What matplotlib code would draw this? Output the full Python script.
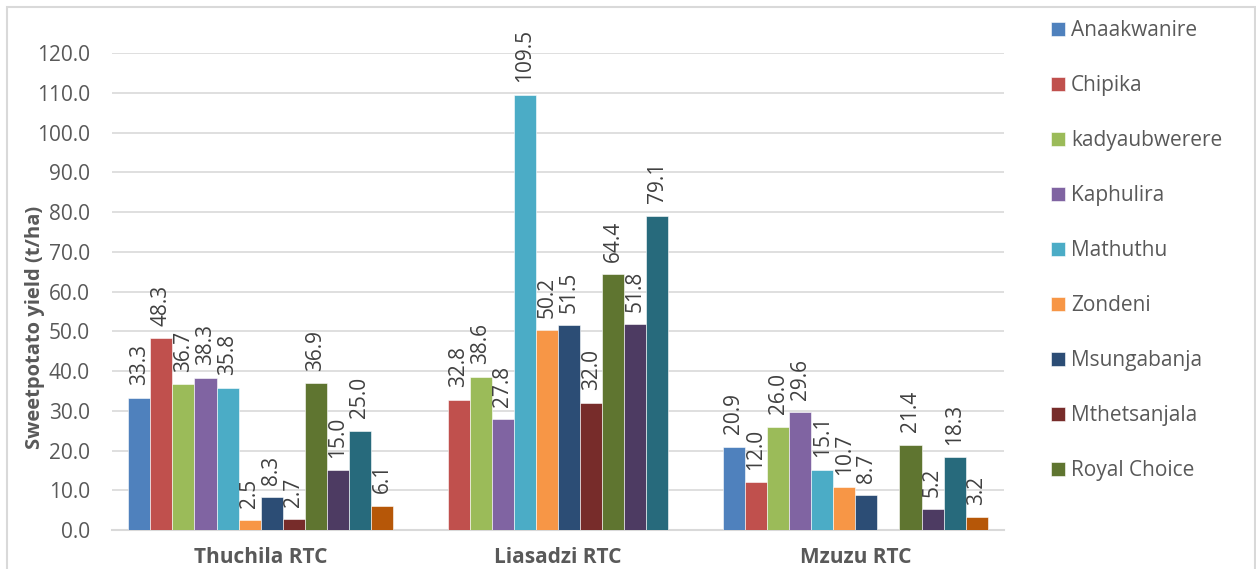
import numpy as np
import matplotlib
matplotlib.use("Agg")
from matplotlib import pyplot as plt
from matplotlib.patches import Rectangle

# 数据
sites = ["Thuchila RTC", "Liasadzi RTC", "Mzuzu RTC"]
varieties = ["Anaakwanire", "Chipika", "kadyaubwerere", "Kaphulira", "Mathuthu",
             "Zondeni", "Msungabanja", "Mthetsanjala", "Royal Choice",
             "Variety 10", "Variety 11", "Variety 12"]
colors = ["#4F81BD", "#C0504D", "#9BBB59", "#8064A2", "#4BACC6", "#F79646",
          "#2C4D75", "#772C2A", "#5F7530", "#4D3B62", "#276A7C", "#B65708"]

nan = np.nan
thuchila = [33.3, 48.3, 36.7, 38.3, 35.8, 2.5, 8.3, 2.7, 36.9, 15.0, 25.0, 6.1]
liasadzi = [nan, 32.8, 38.6, 27.8, 109.5, 50.2, 51.5, 32.0, 64.4, 51.8, 79.1, nan]
mzuzu = [20.9, 12.0, 26.0, 29.6, 15.1, 10.7, 8.7, nan, 21.4, 5.2, 18.3, 3.2]
yields = np.array([thuchila, liasadzi, mzuzu])

plt.rcParams['font.family'] = ['Open Sans', 'DejaVu Sans']

fig = plt.figure(figsize=(12.56, 5.69), dpi=100)
ax = fig.add_axes([112 / 1256, 1 - 530 / 569, 892 / 1256, 477 / 569])

x = np.arange(len(sites))
w = 0.0742
handles = []
for i, name in enumerate(varieties):
    vals = yields[:, i]
    pos = x + (i - 5.5) * w
    bars = ax.bar(pos, np.nan_to_num(vals), width=w, color=colors[i],
                  edgecolor="white", linewidth=0.4, label=name, zorder=3)
    handles.append(bars)
    for px, v in zip(pos, vals):
        if np.isnan(v):
            continue
        ax.annotate("%.1f" % v, (px, v), xytext=(0, 9), textcoords="offset points",
                    rotation=90, ha="center", va="bottom", fontsize=15,
                    color="#404040", annotation_clip=False)

ax.set_xlim(-0.5, 2.5)
ax.set_ylim(0, 120)
ax.set_yticks(np.arange(0, 121, 10))
ax.set_yticklabels(["%.1f" % t for t in np.arange(0, 121, 10)])
ax.set_xticks(x)
ax.set_xticklabels(sites, fontweight="bold")
ax.tick_params(axis="x", length=0, pad=12, labelsize=15, colors="#595959")
ax.tick_params(axis="y", length=0, pad=16, labelsize=15, colors="#595959")
ax.grid(axis="y", color="#D9D9D9", linewidth=1.2, zorder=0)
for s in ["top", "right", "left"]:
    ax.spines[s].set_visible(False)
ax.spines["bottom"].set_color("#D9D9D9")
ax.spines["bottom"].set_linewidth(1.5)
ax.set_ylabel("Sweetpotato yield (t/ha)", fontsize=14.5, fontweight="bold",
              color="#595959")
ax.yaxis.set_label_coords(-67 / 892, (530 - 327) / 477)

# 图例只显示前9个
leg = fig.legend(handles[:9], varieties[:9], loc="upper left",
                 bbox_to_anchor=(1043 / 1256, 1 - 12 / 569), frameon=False,
                 fontsize=15, labelcolor="#595959", handlelength=0.65,
                 handleheight=0.65, handletextpad=0.3, labelspacing=1.63,
                 borderaxespad=0)

# 外框
fig.patches.append(Rectangle((7 / 1256, -0.1), 1248 / 1256, 1.1 - 7 / 569,
                             transform=fig.transFigure, fill=False,
                             edgecolor="#D9D9D9", linewidth=1.5))

fig.savefig("out.png", dpi=100)
